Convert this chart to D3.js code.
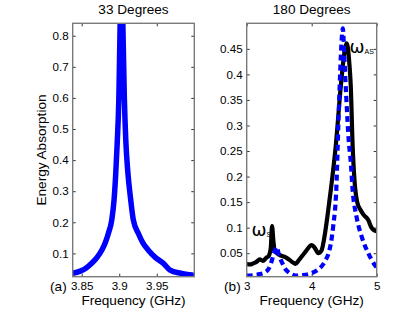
<!DOCTYPE html>
<html>
<head>
<meta charset="utf-8">
<script src="https://cdn.jsdelivr.net/npm/d3@7"></script>
<style>
  body { margin: 0; background: #fff; }
  svg { display: block; font-family: "Liberation Sans", Arial, sans-serif; }
  .tick text { font-size: 11.6px; fill: #000; }
  .tick line { stroke: #333; }
  .lbl { font-size: 13.6px; fill: #000; }
</style>
</head>
<body>
<div id="chart"></div>
<script>
//panel (a): 33 degrees, frequency in GHz and energy absorption
const freqA = [3.838, 3.848, 3.856, 3.8633, 3.8705, 3.8767, 3.8815, 3.8855, 3.89, 3.8931, 3.8952, 3.8972, 3.8995, 3.9012,
               3.903, 3.9048, 3.9068, 3.9088, 3.9115, 3.9153, 3.9188, 3.9255, 3.9315, 3.9388, 3.948, 3.9588, 3.9677,
               3.982, 3.994, 4.0];
const absA  = [0.036, 0.043, 0.053, 0.068, 0.087, 0.11, 0.135, 0.164, 0.207, 0.272, 0.35, 0.45, 0.6, 0.84,
               1.0, 0.84, 0.6, 0.46, 0.36, 0.272, 0.207, 0.164, 0.134, 0.11, 0.087, 0.068, 0.046,
               0.036, 0.031, 0.029];

//panel (b): 180 degrees, measured (black) and simulated (blue dashed)
const freqBmeas = [3.0, 3.05, 3.1, 3.15, 3.2, 3.25, 3.3, 3.34, 3.37, 3.39, 3.41, 3.43, 3.5, 3.6, 3.7, 3.75,
                   3.8, 3.9, 4.0, 4.05, 4.1, 4.15, 4.2, 4.25, 4.3, 4.37, 4.45, 4.5, 4.54, 4.58, 4.6, 4.63,
                   4.66, 4.7, 4.75, 4.8, 4.87, 4.92, 4.96, 5.0];
const absBmeas  = [0.029, 0.028, 0.03, 0.033, 0.038, 0.035, 0.041, 0.045, 0.06, 0.103, 0.075, 0.055, 0.047,
                   0.042, 0.033, 0.029, 0.036, 0.052, 0.066, 0.06, 0.05, 0.055, 0.085, 0.13, 0.18, 0.26,
                   0.38, 0.44, 0.461, 0.42, 0.38, 0.26, 0.19, 0.15, 0.135, 0.125, 0.115, 0.1, 0.095, 0.093];
const freqBsim = [3.0, 3.1, 3.2, 3.3, 3.36, 3.42, 3.46, 3.5, 3.55, 3.6, 3.65, 3.7, 3.75, 3.85, 3.95, 4.0,
                  4.1, 4.15, 4.22, 4.26, 4.33, 4.38, 4.41, 4.44, 4.46, 4.48, 4.5, 4.53, 4.57, 4.6, 4.63,
                  4.69, 4.77, 4.87, 4.97, 5.0];
const absBsim  = [0.006, 0.007, 0.009, 0.014, 0.025, 0.05, 0.062, 0.045, 0.03, 0.018, 0.012, 0.008, 0.006,
                  0.007, 0.009, 0.011, 0.018, 0.024, 0.038, 0.05, 0.102, 0.18, 0.3, 0.41, 0.466, 0.49,
                  0.44, 0.36, 0.27, 0.23, 0.173, 0.121, 0.082, 0.05, 0.027, 0.022];

const ticksAx = [3.85, 3.9, 3.95], ticksAy = [0.1, 0.2, 0.3, 0.4, 0.5, 0.6, 0.7, 0.8];
const ticksBx = [3, 4, 5], ticksBy = [0.05, 0.1, 0.15, 0.2, 0.25, 0.3, 0.35, 0.4, 0.45];

const W = 415, H = 312;
const plotTop = 23.3, plotBottom = 276.7;

const svg = d3.select("#chart").append("svg")
	.attr("width", W).attr("height", H);

//draws one panel: box, inside ticks on all four sides, labels; returns scales and a clipped group
function makePanel(id, left, right, xDom, yDom, xt, yt, title, tag) {
	const x = d3.scaleLinear().domain(xDom).range([left, right]);
	const y = d3.scaleLinear().domain(yDom).range([plotBottom, plotTop]);
	const fmt = d3.format("");

	svg.append("g").attr("transform", "translate(0," + plotBottom + ")")
		.call(d3.axisBottom(x).tickValues(xt).tickSize(-3).tickPadding(5).tickFormat(fmt))
		.call(g => g.select(".domain").remove());
	svg.append("g").attr("transform", "translate(0," + plotTop + ")")
		.call(d3.axisTop(x).tickValues(xt).tickSize(-3).tickFormat(""))
		.call(g => g.select(".domain").remove());
	svg.append("g").attr("transform", "translate(" + left + ",0)")
		.call(d3.axisLeft(y).tickValues(yt).tickSize(-3).tickPadding(4).tickFormat(fmt))
		.call(g => g.select(".domain").remove());
	svg.append("g").attr("transform", "translate(" + right + ",0)")
		.call(d3.axisRight(y).tickValues(yt).tickSize(-3).tickFormat(""))
		.call(g => g.select(".domain").remove());

	svg.append("clipPath").attr("id", id)
		.append("rect").attr("x", left).attr("y", plotTop)
		.attr("width", right - left).attr("height", plotBottom - plotTop);
	const g = svg.append("g").attr("clip-path", "url(#" + id + ")");

	svg.append("rect").attr("x", left).attr("y", plotTop)
		.attr("width", right - left).attr("height", plotBottom - plotTop)
		.attr("fill", "none").attr("stroke", "#7a7a7a").attr("stroke-width", 1.4);

	svg.append("text").attr("class", "lbl").attr("text-anchor", "middle")
		.attr("x", (left + right) / 2).attr("y", 13.5).text(title);
	svg.append("text").attr("class", "lbl").attr("text-anchor", "middle")
		.attr("x", (left + right) / 2).attr("y", 305).text("Frequency (GHz)");
	svg.append("text").attr("class", "lbl").attr("text-anchor", "end")
		.attr("x", left - 6).attr("y", 291).text(tag);

	return {x: x, y: y, g: g};
}

const pa = makePanel("clipA", 72.7, 194.3, [3.838, 4.0], [0.025, 0.84], ticksAx, ticksAy, "33 Degrees", "(a)");
const pb = makePanel("clipB", 246.7, 376.7, [3, 5], [0.004, 0.5], ticksBx, ticksBy, "180 Degrees", "(b)");

function lineOf(p, xs, ys, curve) {
	return d3.line().x(i => p.x(xs[i])).y(i => p.y(ys[i])).curve(curve)(d3.range(xs.length));
}

pa.g.append("path").attr("d", lineOf(pa, freqA, absA, d3.curveMonotoneX))
	.attr("fill", "none").attr("stroke", "#0000ff").attr("stroke-width", 5.5).attr("stroke-linejoin", "round");

pb.g.append("path").attr("d", lineOf(pb, freqBmeas, absBmeas, d3.curveMonotoneX))
	.attr("fill", "none").attr("stroke", "#000").attr("stroke-width", 4.2).attr("stroke-linejoin", "round");
pb.g.append("path").attr("d", lineOf(pb, freqBsim, absBsim, d3.curveMonotoneX))
	.attr("fill", "none").attr("stroke", "#0000ff").attr("stroke-width", 4.2)
	.attr("stroke-dasharray", "6,4");

svg.append("text").attr("class", "lbl").attr("text-anchor", "middle")
	.attr("transform", "translate(46,150) rotate(-90)").text("Energy Absorption");

//omega labels for the two modes
function omega(xp, yp, sub) {
	const t = svg.append("text").attr("x", xp).attr("y", yp)
		.style("font-family", "'DejaVu Sans', sans-serif").style("font-size", "18px").text("ω");
	t.append("tspan").attr("dy", 1).style("font-family", "'Liberation Sans', Arial, sans-serif")
		.style("font-size", "7px").text(sub);
}
omega(349.5, 52.5, "AS");
omega(251.5, 235.5, "S");
</script>
</body>
</html>
